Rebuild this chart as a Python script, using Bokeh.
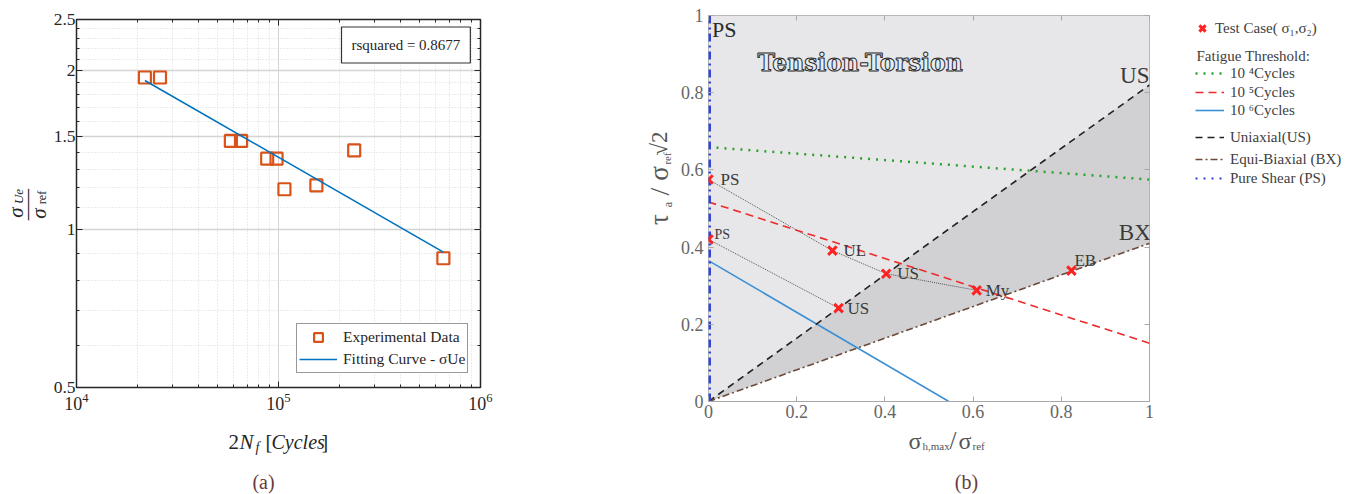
import numpy as np
from bokeh.plotting import figure
from bokeh.models import (FixedTicker, LogAxis, LinearAxis, Label, Legend, LegendItem,
                          CustomJSTickFormatter, Range1d)
from bokeh.layouts import row, column
from bokeh.embed import file_html
from bokeh.resources import INLINE
from bokeh.core.properties import value

# ---------------- data: panel (a) ----------------
cycles = [2.18e4, 2.59e4, 5.81e4, 6.53e4, 8.79e4, 9.78e4, 1.07e5, 1.54e5, 2.37e5, 6.55e5]
ratio = [1.94, 1.94, 1.47, 1.47, 1.36, 1.36, 1.19, 1.21, 1.41, 0.88]
fit_cycles = [2.18e4, 6.55e5]
fit_ratio = [1.915, 0.904]
r_squared = "0.8677"
x_major = [1e4, 1e5, 1e6]
y_major = [0.5, 1.0, 1.5, 2.0, 2.5]
y_minor = [0.6, 0.7, 0.8, 0.9, 1.1, 1.2, 1.3, 1.4, 1.6, 1.7, 1.8, 1.9, 2.1, 2.2, 2.3, 2.4]

# ---------------- data: panel (b) ----------------
tc_x = [0.0, 0.0, 0.281, 0.403, 0.608, 0.295, 0.823]
tc_y = [0.575, 0.42, 0.391, 0.331, 0.288, 0.242, 0.339]
tc_lab = ["PS", "PS", "UL", "US", "My", "US", "EB"]
path_a = [0, 2, 3, 4]
path_b = [1, 5]
thr_x = [0.0, 1.0]
thr_1e4 = [0.659, 0.575]
thr_1e5 = [0.517, 0.151]
thr_1e6_x = [0.0, 0.545]
thr_1e6_y = [0.365, 0.0]
us_x = [0.0, 1.0]
us_y = [0.0, 0.82]
bx_x = [0.0, 1.0]
bx_y = [0.0, 0.41]
ps_x = [0.0, 0.0]
ps_y = [0.0, 1.0]
b_ticks = [0, 0.2, 0.4, 0.6, 0.8, 1.0]

SERIF = "Liberation Serif"
DARK = "#262626"
GR = "#555555"
BROWN = "#6b3a3a"
rot = np.pi / 2


def text_fig(x0, x1, y0, y1, top=0, bottom=0):
    """A blank figure whose frame maps straight onto page pixels (for text)."""
    f = figure(width=x1 - x0, height=y1 - y0, output_backend="svg", toolbar_location=None,
               x_range=Range1d(x0, x1), y_range=Range1d(y1 - bottom, y0 + top),
               x_axis_location=None, y_axis_location=None,
               min_border_left=0, min_border_right=0, min_border_top=top, min_border_bottom=bottom)
    f.grid.visible = False
    f.outline_line_color = None
    f.background_fill_color = "white"
    f.border_fill_color = "white"
    return f


def lab(f, x, y, text, size, color, style="normal", font=SERIF, align="left", angle=0.0, **kw):
    f.add_layout(Label(x=x, y=y, text=text, text_font=font, text_font_size=f"{size}px",
                       text_font_style=style, text_color=color, text_align=align,
                       text_baseline="middle", angle=angle, **kw))


HIDDEN = dict(major_label_text_font_size="2px", major_label_text_alpha=0.0,
              major_label_standoff=0, axis_line_color=None)
fmt_plain = CustomJSTickFormatter(code="return String(Number(tick.toFixed(2)));")

# ======================= panel (a) =======================
L1, R1, T1, B1 = 73, 480, 19, 387
YL1 = 50          # width of the y-label strip
HT1 = 426         # height of the upper row
p1 = figure(width=644 - YL1, height=HT1, x_axis_type="log", y_axis_type="log",
            x_range=Range1d(1e4, 1e6), y_range=Range1d(0.5, 2.5),
            output_backend="svg", toolbar_location=None,
            min_border_left=L1 - YL1, min_border_right=644 - R1,
            min_border_top=T1, min_border_bottom=HT1 - B1)
p1.background_fill_color = "white"
p1.outline_line_color = DARK
p1.outline_line_width = 1.5

x_minor = [k * 10.0 ** e for e in (4, 5) for k in range(2, 10)]
for ax in (p1.xaxis[0], p1.yaxis[0]):
    ax.major_tick_in = 6
    ax.major_tick_out = 0
    ax.minor_tick_in = 3
    ax.minor_tick_out = 0
    ax.axis_line_color = DARK
    ax.major_tick_line_color = DARK
    ax.minor_tick_line_color = DARK
    ax.major_label_text_font = SERIF
    ax.major_label_text_color = DARK
p1.xaxis[0].major_label_text_font_size = "18px"
p1.yaxis[0].major_label_text_font_size = "17.5px"
p1.xaxis[0].ticker = FixedTicker(ticks=x_major, minor_ticks=x_minor)
p1.yaxis[0].ticker = FixedTicker(ticks=y_major, minor_ticks=y_minor)
p1.yaxis[0].formatter = fmt_plain
p1.xaxis[0].major_label_standoff = 5
p1.yaxis[0].major_label_standoff = 1

p1.add_layout(LogAxis(ticker=FixedTicker(ticks=x_major, minor_ticks=x_minor),
                      major_tick_in=6, major_tick_out=0, minor_tick_in=3, minor_tick_out=0,
                      major_tick_line_color=DARK, minor_tick_line_color=DARK, **HIDDEN), "above")
p1.add_layout(LogAxis(ticker=FixedTicker(ticks=y_major, minor_ticks=y_minor), formatter=fmt_plain,
                      major_tick_in=6, major_tick_out=0, minor_tick_in=3, minor_tick_out=0,
                      major_tick_line_color=DARK, minor_tick_line_color=DARK, **HIDDEN), "right")

for g in (p1.xgrid[0], p1.ygrid[0]):
    g.grid_line_color = "#d4d4d4"
    g.minor_grid_line_color = "#d9d9d9"
    g.minor_grid_line_dash = "1 2"
p1.ygrid[0].grid_line_width = 1.6
p1.xgrid[0].grid_line_width = 1.0

r_exp = p1.scatter(cycles, ratio, marker="square", size=12, fill_color=None,
                   line_color="#d95319", line_width=2.2)
r_fit = p1.line(fit_cycles, fit_ratio, line_color="#0072bd", line_width=1.6)

leg1 = Legend(items=[LegendItem(label="Experimental Data", renderers=[r_exp]),
                     LegendItem(label="Fitting Curve - σUe", renderers=[r_fit])],
              location=(293 - L1, B1 - 373), padding=2, spacing=0,
              label_height=22, glyph_height=22, glyph_width=38, label_standoff=6,
              label_text_font=SERIF, label_text_font_size="15.5px", label_text_color=DARK,
              border_line_color="#333333", border_line_width=1,
              background_fill_color="white", background_fill_alpha=1.0)
p1.add_layout(leg1, "center")

p1.add_layout(Label(x=338 - L1, y=B1 - 44.5, x_units="screen", y_units="screen",
                    text="rsquared = " + r_squared, text_font=SERIF, text_font_size="15px",
                    text_color=DARK, text_baseline="middle", text_align="left",
                    border_line_color="#333333", border_line_width=1.2,
                    background_fill_color="white", padding=10))

# y-label strip (fraction, rotated)
ya = text_fig(0, YL1, 0, HT1, top=T1, bottom=HT1 - B1)
lab(ya, 15, 212, "σ", 21, DARK, style="italic", align="center", angle=rot)
lab(ya, 18, 196, "Ue", 13, DARK, style="italic", align="center", angle=rot)
lab(ya, 28, 204, "────", 13, DARK, font="DejaVu Sans Mono", align="center", angle=rot)
lab(ya, 38, 213, "σ", 21, DARK, style="italic", align="center", angle=rot)
lab(ya, 41, 197, "ref", 12, DARK, align="center", angle=rot)

# x-label strip
xa = text_fig(0, 644, HT1, 494)
lab(xa, 228, 441, "2", 21, DARK)
lab(xa, 239, 441, "N", 21, DARK, style="italic")
lab(xa, 255, 447, "f", 14, DARK, style="italic")
lab(xa, 265, 441, "[", 20, DARK)
lab(xa, 271, 441, "Cycles", 20, DARK, style="italic")
lab(xa, 321, 441, "]", 20, DARK)
lab(xa, 263, 481, "(a)", 20, BROWN, align="center")

panel_a = column(row(ya, p1, spacing=0), xa, spacing=0)

# ======================= panel (b) =======================
L2, R2, T2, B2 = 708, 1149, 15, 401
X0B, YL2, PR = 644, 676, 1158
HT2 = 425
p2 = figure(width=PR - YL2, height=HT2, x_range=Range1d(0, 1), y_range=Range1d(0, 1),
            output_backend="svg", toolbar_location=None,
            min_border_left=L2 - YL2, min_border_right=PR - R2,
            min_border_top=T2, min_border_bottom=HT2 - B2)
p2.background_fill_color = "white"
p2.outline_line_color = "#a8a8a8"
p2.outline_line_width = 1
p2.grid.visible = False

for ax in (p2.xaxis[0], p2.yaxis[0]):
    ax.ticker = FixedTicker(ticks=b_ticks)
    ax.formatter = fmt_plain
    ax.major_tick_in = 5
    ax.major_tick_out = 0
    ax.minor_tick_in = 0
    ax.minor_tick_out = 0
    ax.axis_line_color = "#a8a8a8"
    ax.major_tick_line_color = "#a8a8a8"
    ax.major_label_text_font = SERIF
    ax.major_label_text_font_size = "18px"
    ax.major_label_text_color = "#666666"
p2.xaxis[0].major_label_standoff = 3
p2.yaxis[0].major_label_standoff = 5
p2.yaxis[0].axis_line_color = None
for side in ("above", "right"):
    p2.add_layout(LinearAxis(ticker=FixedTicker(ticks=b_ticks), formatter=fmt_plain,
                             major_tick_in=5, major_tick_out=0, minor_tick_in=0, minor_tick_out=0,
                             major_tick_line_color="#a8a8a8", **HIDDEN), side)

# shaded regions bounded by the US and BX loading paths
p2.patch([us_x[0], us_x[1], us_x[1], us_x[0]], [us_y[0], us_y[1], 1.0, 1.0],
         fill_color="#e7e7e9", line_color=None)
p2.patch([us_x[0], us_x[1], bx_x[1]], [us_y[0], us_y[1], bx_y[1]],
         fill_color="#d1d1d3", line_color=None)

p2.line([tc_x[i] for i in path_a], [tc_y[i] for i in path_a],
        line_color="#555555", line_width=1, line_dash="1 1")
p2.line([tc_x[i] for i in path_b], [tc_y[i] for i in path_b],
        line_color="#555555", line_width=1, line_dash="1 1")

ST4 = dict(line_color="#2ca02c", line_width=2.5, line_dash="2 6")
ST5 = dict(line_color="#ee2a2a", line_width=1.6, line_dash="8 5")
ST6 = dict(line_color="#3b8fd4", line_width=1.6)
STUS = dict(line_color="#222222", line_width=1.6, line_dash="7 5")
STBX = dict(line_color="#6b4a3a", line_width=1.6, line_dash="7 3 2 3")
STPS = dict(line_color="#3347d6", line_width=5, line_dash="8 4 2 4")
STTC = dict(marker="x", size=12, line_width=3, line_color="#ff2222")

p2.line(thr_x, thr_1e4, **ST4)
p2.line(thr_x, thr_1e5, **ST5)
p2.line(thr_1e6_x, thr_1e6_y, **ST6)
p2.line(us_x, us_y, **STUS)
p2.line(bx_x, bx_y, **STBX)
p2.line(ps_x, ps_y, **STPS)
p2.scatter(tc_x, tc_y, **STTC)

tc_dx = [12, 6, 11, 11, 9, 9, 3]
tc_dy = [0, -5, 0, 0, 0, 0, -10]
tc_size = ["17px", "14px", "17px", "17px", "17px", "17px", "17px"]
p2.text(x=tc_x, y=tc_y, text=tc_lab, x_offset=tc_dx, y_offset=tc_dy,
        text_font=value(SERIF), text_font_size=tc_size, text_color="#3a3a3a",
        text_baseline="middle", text_align="left")

p2.add_layout(Label(x=0.008, y=0.964, text="PS", text_font=SERIF, text_font_size="22px",
                    text_color="#2a2a2a", text_baseline="middle"))
p2.add_layout(Label(x=1.0, y=0.845, text="US", text_font=SERIF, text_font_size="23px",
                    text_color="#3a3a3a", text_baseline="middle", text_align="right"))
p2.add_layout(Label(x=1.003, y=0.438, text="BX", text_font=SERIF, text_font_size="23px",
                    text_color="#3a3a3a", text_baseline="middle", text_align="right"))
p2.add_layout(Label(x=0.111, y=0.876, text="Tension-Torsion", text_font="DejaVu Serif",
                    text_font_style="bold", text_font_size="23.5px", text_color="#ececee",
                    text_outline_color="#2a2a2a", text_baseline="middle"))

# y-label strip
yb = text_fig(X0B, YL2, 0, HT2, top=T2, bottom=HT2 - B2)
lab(yb, 658, 219, "τ", 27, GR, align="center", angle=rot)
lab(yb, 667, 204, "a", 12, GR, align="center", angle=rot)
lab(yb, 659, 191, "/", 28, GR, align="center", angle=rot)
lab(yb, 658, 173, "σ", 27, GR, align="center", angle=rot)
lab(yb, 666, 158, "ref", 11, GR, align="center", angle=rot)
lab(yb, 659, 143, "√2", 23, GR, align="center", angle=rot)

# legend strip
W_ALL = 1352
lg = text_fig(PR, W_ALL, 0, HT2, top=T2, bottom=HT2 - B2)
LEG = dict(label_text_font=SERIF, label_text_font_size="15px", label_text_color="#404040",
           border_line_color=None, background_fill_alpha=0.0, padding=0, spacing=0,
           label_height=22, glyph_height=22)
# legend-only copies of the series (their data lie outside this strip's ranges)
entries = [
    ("Test Case( σ₁,σ₂)", lg.scatter(tc_x, tc_y, **STTC), 28, 1189, 26, 0),
    ("10 ⁴Cycles", lg.line(thr_x, thr_1e4, **ST4), 73, 1195, 29, 6),
    ("10 ⁵Cycles", lg.line(thr_x, thr_1e5, **ST5), 92, 1195, 29, 6),
    ("10 ⁶Cycles", lg.line(thr_1e6_x, thr_1e6_y, **ST6), 110, 1195, 29, 6),
    ("Uniaxial(US)", lg.line(us_x, us_y, **STUS), 137, 1195, 29, 6),
    ("Equi-Biaxial (BX)", lg.line(bx_x, bx_y, **STBX), 159, 1195, 29, 6),
    ("Pure Shear (PS)", lg.line(ps_x, ps_y, **dict(STPS, line_width=2, line_dash="2 6")), 178, 1195, 29, 6),
]
for text, rend, yc, xl, gw, so in entries:
    lg.add_layout(Legend(items=[LegendItem(label=text, renderers=[rend])],
                         location=(xl - PR, B2 - (yc + 11)), glyph_width=gw,
                         label_standoff=so, **LEG), "center")
lab(lg, 1196, 55, "Fatigue Threshold:", 15, "#404040")

# x-label strip
xb = text_fig(X0B, W_ALL, HT2, 494)
lab(xb, 908, 440, "σ", 24, GR)
lab(xb, 922, 445, "h,max", 11, GR)
lab(xb, 949, 440, "/", 25, GR)
lab(xb, 958, 440, "σ", 24, GR)
lab(xb, 972, 445, "ref", 11, GR)
lab(xb, 966, 481, "(b)", 20, BROWN, align="center")

panel_b = column(row(yb, p2, lg, spacing=0), xb, spacing=0)

layout = row(panel_a, panel_b, spacing=0)
open("out.html", "w").write(file_html(layout, INLINE))
